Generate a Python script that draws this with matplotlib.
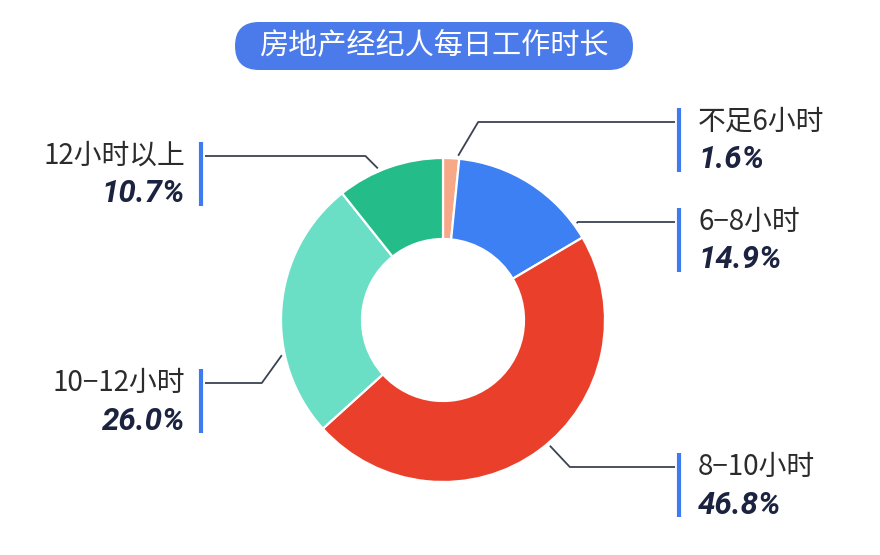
import numpy as np
import matplotlib
matplotlib.use('Agg')
import matplotlib.pyplot as plt
from matplotlib.patches import FancyBboxPatch

plt.rcParams['font.family'] = ['Noto Sans CJK SC', 'DejaVu Sans']

# data
title = '房地产经纪人每日工作时长'
categories = ['不足6小时', '6−8小时', '8−10小时', '10−12小时', '12小时以上']
values = [1.6, 14.9, 46.8, 26.0, 10.7]
colors = ['#F7A887', '#3D80F3', '#EA402B', '#6ADFC6', '#24BC88']

# layout (pixel coords, y measured from top)
W, H = 880, 555
cx, cy, R = 443, 320, 162
sides = ['right', 'right', 'right', 'left', 'left']
bar_top = [108, 208, 453, 369, 142]
lead_shift = [-2.4, -21.5, 4.0, 17.0, 4.0]   # nudge of leader start (deg)


def Y(y):
    return H - y


fig = plt.figure(figsize=(W / 100, H / 100), dpi=100)
ax = fig.add_axes([0, 0, 1, 1])
ax.set_xlim(0, W)
ax.set_ylim(0, H)
ax.set_aspect('equal')
ax.axis('off')

# donut
wedges, _ = ax.pie(values, colors=colors, startangle=90, counterclock=False,
                   radius=R, center=(cx, Y(cy)),
                   wedgeprops=dict(width=R * 0.5, edgecolor='white', linewidth=1.6))
ax.set_xlim(0, W)
ax.set_ylim(0, H)

# title box
box = FancyBboxPatch((235, Y(70)), 398, 48, boxstyle='round,pad=0,rounding_size=24',
                     fc='#4B7BEA', ec='none')
ax.add_patch(box)
ax.text(434, Y(46), title, color='white', fontsize=21, ha='center', va='center')

# labels with leader lines
line_col = '#3B4252'
for w, cat, v, side, top, sh in zip(wedges, categories, values, sides, bar_top, lead_shift):
    mid = np.deg2rad((w.theta1 + w.theta2) / 2 + sh)
    sx = cx + (R + 3) * np.cos(mid)
    sy = Y(cy) + (R + 3) * np.sin(mid)
    ly = Y(top + 14)
    sgn = 1 if side == 'right' else -1
    ex = sx + sgn * min(abs(ly - sy), 20)
    bx = 679 if side == 'right' else 201
    ax.plot([sx, ex, bx - sgn * 4], [sy, ly, ly], color=line_col, lw=1.3,
            solid_capstyle='butt')
    ax.plot([bx, bx], [Y(top), Y(top + 64)], color='#3F7BF0', lw=3,
            solid_capstyle='butt')
    tx = 698 if side == 'right' else 185
    ha = 'left' if side == 'right' else 'right'
    ax.text(tx, ly, cat, fontsize=20, color='#2B2B2B', ha=ha, va='center')
    ax.text(tx, Y(top + 52), f'{v:.1f}%', fontsize=22.5, color='#1B2340', ha=ha,
            va='center', family=['Roboto', 'DejaVu Sans'], weight='bold', style='italic')

fig.savefig('out.png', dpi=100, facecolor='white')
